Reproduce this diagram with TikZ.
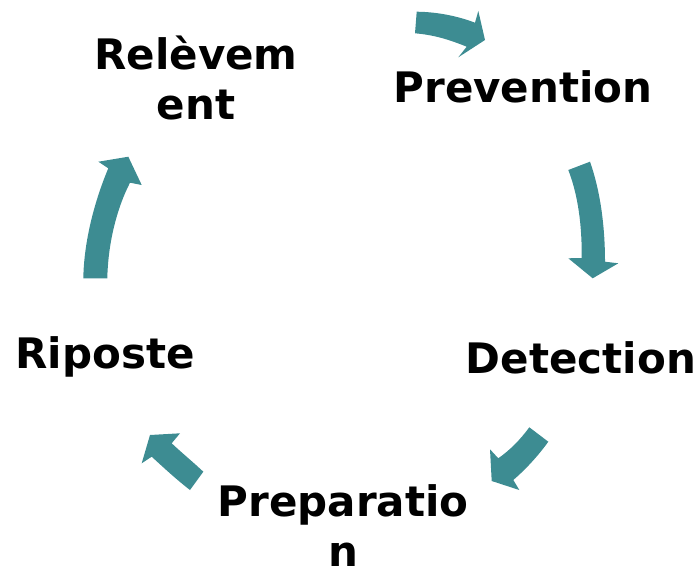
\documentclass[tikz,border=0pt]{standalone}
\usepackage{fontspec}
\setmainfont{DejaVu Sans}
\definecolor{cycleteal}{RGB}{61,140,146}
\begin{document}
\begin{tikzpicture}[x=1pt, y=-1pt]
\tikzset{ stage/.style={font=\fontsize{42}{50}\selectfont\bfseries, align=center, inner sep=0pt, outer sep=0pt},
  blockarrow/.style={fill=cycleteal, draw=none} }

\useasboundingbox (0,0) rectangle (700,575);

% stages
\node [stage] (Rel) at (196,78) {Relèvem\\ent};
\node [stage] (Pre) at (523,87) {Prevention};
\node [stage] (Det) at (581,358) {Detection};
\node [stage] (Rip) at (105,357) {Riposte};
\node [stage] (Par) at (343,526) {Preparatio\\n};

% arrows
\fill [blockarrow] (416.7,11.7) .. controls (440,12) and (460,17) .. (475,22.7) -- (478.3,11) -- (485,40)
      -- (458.3,57.3) -- (466.7,46.7) .. controls (450,40) and (435,35) .. (415,33.3) -- cycle;
\fill [blockarrow] (568.3,170) -- (590,161.7) .. controls (600,190) and (605,225) .. (605,261.7) -- (618.3,263.3)
      -- (592.7,278.3) -- (568.3,258.3) -- (581.7,258) .. controls (582,225) and (578,195) .. (568.3,170) -- cycle;
\fill [blockarrow] (529.3,427.3) -- (548.3,441.7) .. controls (538,456) and (526,469) .. (513.3,480) -- (519.3,490)
      -- (491.7,481) -- (490,449.3) -- (498.3,458.3) .. controls (510,450) and (520,440) .. (529.3,427.3) -- cycle;
\fill [blockarrow] (190,490) -- (203.3,471.7) .. controls (193,462) and (182,453) .. (171.7,443.3) -- (180,433.3)
      -- (150,435) -- (141.7,463.3) -- (151.7,456.7) .. controls (164,468) and (177,480) .. (190,490) -- cycle;
\fill [blockarrow] (83.3,278.3) -- (107.3,278.3) .. controls (108,245) and (116,210) .. (130,182.7) -- (141.7,185)
      -- (128.3,156.7) -- (98.3,161.7) -- (108.3,168.3) .. controls (95,200) and (84,240) .. (83.3,278.3) -- cycle;

\end{tikzpicture}
\end{document}
